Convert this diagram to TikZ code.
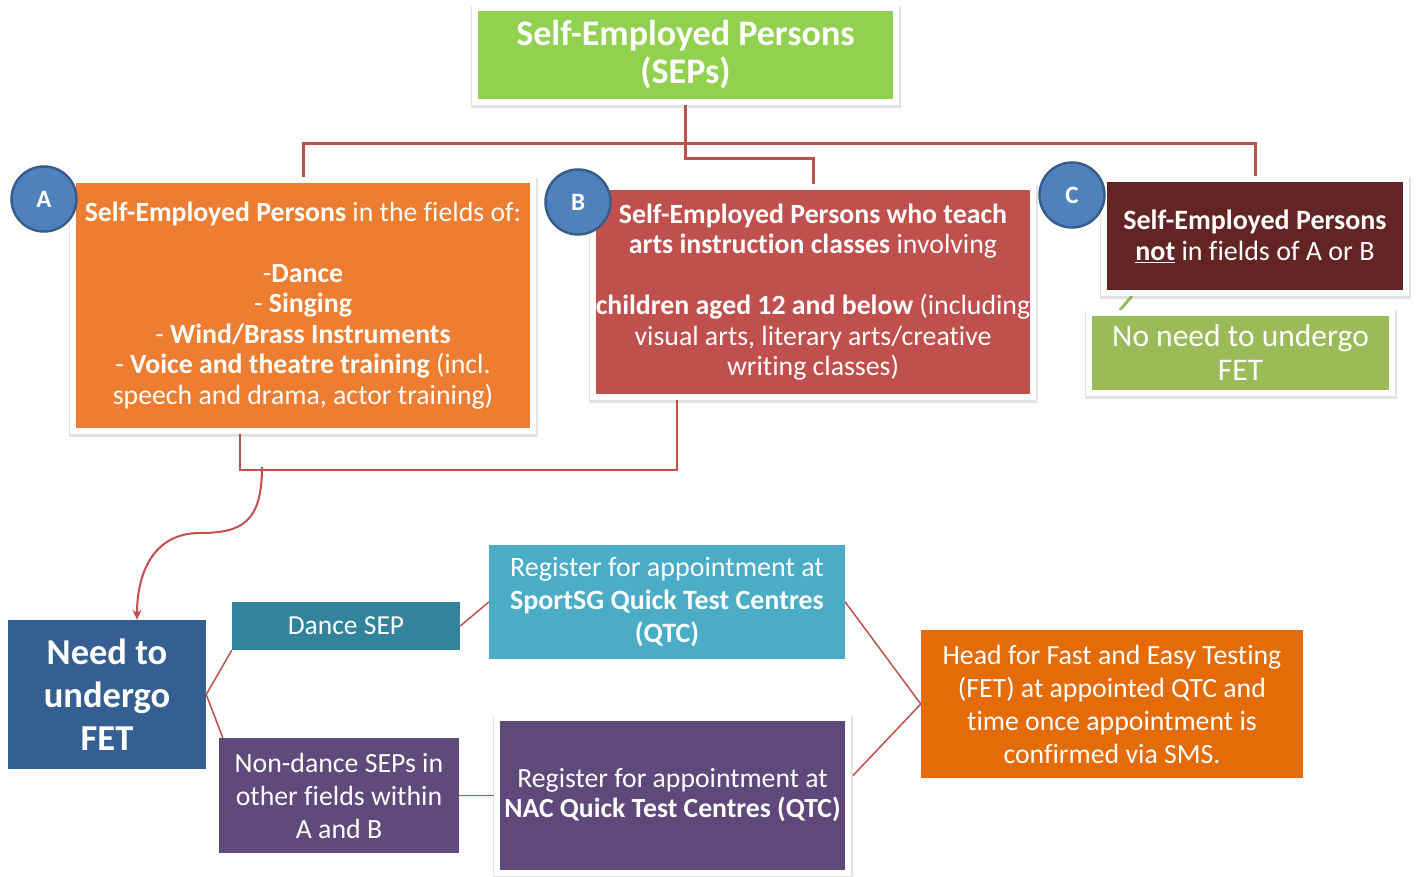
\documentclass[tikz,border=0pt]{standalone}
\usepackage{fontspec}
\setmainfont{Carlito}[Ligatures=NoCommon]
\usetikzlibrary{arrows.meta, positioning, shadows, backgrounds, calc}

\definecolor{sepgreen}{HTML}{92D050}
\definecolor{fieldorange}{HTML}{ED7D31}
\definecolor{fieldred}{HTML}{C0504D}
\definecolor{fieldmaroon}{HTML}{632523}
\definecolor{nofetgreen}{HTML}{9BBB59}
\definecolor{needblue}{HTML}{365F91}
\definecolor{danceteal}{HTML}{31849B}
\definecolor{nondancepurple}{HTML}{604A7B}
\definecolor{sportsgblue}{HTML}{4BACC6}
\definecolor{nacpurple}{HTML}{5F497A}
\definecolor{headorange}{HTML}{E36C09}
\definecolor{circfill}{HTML}{4F81BD}
\definecolor{circline}{HTML}{385D8A}
\definecolor{linered}{HTML}{C0504D}

\newcommand\boxfont[2]{\fontsize{#1}{#2}\selectfont}

\begin{document}
\begin{tikzpicture}[x=1pt, y=-1pt,
    box/.style={fill=#1, text=white, align=center, inner sep=0pt},
    card/.style={draw=white, line width=6pt,
        drop shadow={shadow xshift=0.5pt, shadow yshift=-2pt, opacity=0.18,
            fill=black!60, draw=black!60, line width=8.5pt}},
    badge/.style={circle, draw=circline, line width=2.5pt, fill=circfill,
        text=white, minimum size=65pt, inner sep=0pt,
        font=\boxfont{25}{28}\bfseries},
    tree/.style={draw=linered, line width=3pt},
    link/.style={draw=linered, line width=1.5pt}]
    \useasboundingbox (0,0) rectangle (1416,877);

    % Top
    \node[box=sepgreen, card, minimum width=421pt, minimum height=94pt,
        font=\boxfont{36}{38}\bfseries] (sep) at (685.5,55)
        {Self-Employed Persons\\(SEPs)};

    % Fields A, B, C
    \node[box=fieldorange, card, minimum width=460pt, minimum height=251pt,
        font=\boxfont{27.8}{30.5}] (fieldA) at (303,305.5)
        {\textbf{Self-Employed Persons} in the fields of:\\[30.5pt]
         -\textbf{Dance}\\
         - \textbf{Singing}\\
         - \textbf{Wind/Brass Instruments}\\
         - \textbf{Voice and theatre training} (incl.\\
         speech and drama, actor training)};
    \node[box=fieldred, card, minimum width=440pt, minimum height=210pt,
        font=\boxfont{27.8}{30.5}] (fieldB) at (813,292)
        {\textbf{Self-Employed Persons who teach}\\
         \textbf{arts instruction classes} involving\\[30.5pt]
         \textbf{children aged 12 and below} (including\\
         visual arts, literary arts/creative\\
         writing classes)};
    \node[box=fieldmaroon, card, minimum width=302pt, minimum height=114pt,
        font=\boxfont{28}{31}] (fieldC) at (1255,236)
        {\textbf{Self-Employed Persons}\\
         \underline{\textbf{not}} in fields of A or B};
    \node[box=nofetgreen, card, minimum width=303pt, minimum height=80pt,
        font=\boxfont{31.5}{34}] (nofet) at (1240.5,353)
        {No need to undergo\\FET};

    \node[badge] (circA) at (44,199) {A};
    \node[badge] (circB) at (578,202) {B};
    \node[badge] (circC) at (1072,195) {C};

    % Lower part
    \node[box=needblue, minimum width=198pt, minimum height=149pt,
        font=\boxfont{36.5}{43}\bfseries] (needfet) at (107,694.5)
        {Need to\\undergo\\FET};
    \node[box=danceteal, minimum width=228pt, minimum height=48pt,
        font=\boxfont{27.5}{33}] (dance) at (346,626) {Dance SEP};
    \node[box=nondancepurple, minimum width=240pt, minimum height=115pt,
        font=\boxfont{27.8}{33}] (nondance) at (339,795.5)
        {Non-dance SEPs in\\other fields within\\A and B};
    \node[box=sportsgblue, minimum width=356pt, minimum height=114pt,
        font=\boxfont{28}{33}] (sportsg) at (667,602)
        {Register for appointment at\\
         \textbf{SportSG Quick Test Centres}\\
         \textbf{(QTC)}};
    \node[box=nacpurple, card, minimum width=351pt, minimum height=155pt,
        font=\boxfont{27.7}{30}] (nac) at (672.5,795.5)
        {Register for appointment at\\
         \textbf{NAC Quick Test Centres (QTC)}};
    \node[box=headorange, minimum width=382pt, minimum height=148pt,
        font=\boxfont{27.8}{33}] (head) at (1112,704)
        {Head for Fast and Easy Testing\\
         (FET) at appointed QTC and\\
         time once appointment is\\
         confirmed via SMS.};

    \coordinate (split) at (262,467);

    \begin{scope}[on background layer]
        % Tree
        \draw[tree] (fieldA.north) -- ++(0,-33) -| (fieldC.north);
        \draw[tree] (sep.south) -- ++(0,54) -| (fieldB.north);
        \draw[link, line width=2pt] (fieldA.south -| 240,0) -- ++(0,36)
            -| (fieldB.south -| 677,0);
        \draw[draw=nofetgreen, line width=3pt] (fieldC.south -| 1132,0)
            -- (nofet.north -| 1120,0);
        % Links
        \draw[link] (needfet.east) -- (dance.south west);
        \draw[link] (needfet.east) -- ($(nondance.north west)+(4,0)$);
        \draw[link] (dance.east) -- (sportsg.west);
        \draw[link] (nondance.east) -- (nac.west);
        \draw[link] (sportsg.east) -- (head.west);
        \draw[link] ($(nac.east)+(2,-20)$) -- (head.west);
    \end{scope}

    % Arrow
    \draw[link, line width=2pt, -{Stealth[length=10pt, width=9pt]}] (split)
        .. controls (262,522) and (242,533) .. (200,533)
        .. controls (152,533) and (137,575) .. (needfet.north -| 137,0);

\end{tikzpicture}
\end{document}
